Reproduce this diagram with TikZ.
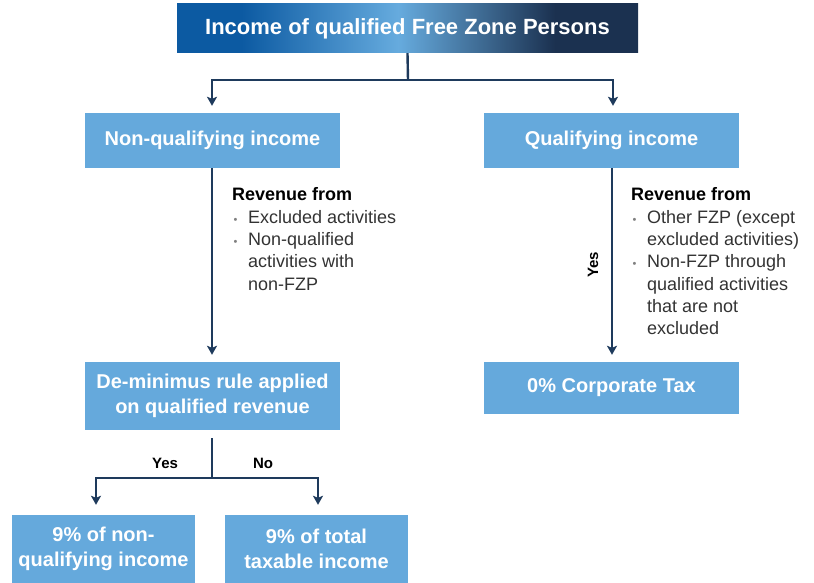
\documentclass[tikz,border=0pt]{standalone}
\usepackage{fontspec}
\setmainfont{Liberation Sans}
\usetikzlibrary{arrows.meta,calc}
\definecolor{boxblue}{HTML}{65A9DC}
\definecolor{arrowc}{HTML}{1E3A5C}
\definecolor{gA}{HTML}{0C5AA2}
\definecolor{gB}{HTML}{66ABDE}
\definecolor{gC}{HTML}{1B3150}
\definecolor{bodytext}{HTML}{333333}
\pgfdeclarehorizontalshading{topgrad}{100bp}{color(0bp)=(gA); color(32bp)=(gA); color(49bp)=(gB); color(66bp)=(gC); color(100bp)=(gC)}
\tikzset{
  box/.style={fill=boxblue, text=white, font=\bfseries\fontsize{20}{25.5}\selectfont, align=center, inner sep=0pt},
  conn/.style={draw=arrowc, line width=2.4pt},
  arr/.style={conn, -{Stealth[length=9pt,width=10pt,inset=2pt]}},
  body/.style={font=\fontsize{18}{22.3}\selectfont, text=bodytext, align=left, inner sep=0pt, anchor=north west},
  lbl/.style={font=\bfseries\fontsize{15}{18}\selectfont, text=black, inner sep=0pt}
}
\newcommand{\bul}{\textcolor{gray}{\fontsize{11}{14}\selectfont\textbullet}}
\begin{document}
\begin{tikzpicture}[x=1pt,y=-1pt]
\useasboundingbox (0,0) rectangle (814,583);
% boxes
\node[box, shading=topgrad, minimum width=461pt, minimum height=49pt, font=\bfseries\fontsize{22}{26}\selectfont] (top) at (407.5,28.5) {Income of qualified Free Zone Persons};
\node[box, minimum width=255pt, minimum height=55pt] (nq) at (212.5,140.5) {Non-qualifying income};
\node[box, minimum width=255pt, minimum height=55pt] (q) at (611.5,140.5) {Qualifying income};
\node[box, minimum width=255pt, minimum height=68pt] (dm) at (212.5,396) {De-minimus rule applied\\on qualified revenue};
\node[box, minimum width=255pt, minimum height=52pt] (ct) at (611.5,388) {0\% Corporate Tax};
\node[box, minimum width=183pt, minimum height=68pt] (b1) at (103.5,549) {9\% of non-\\qualifying income};
\node[box, minimum width=183pt, minimum height=68pt] (b2) at (316.5,549) {9\% of total\\taxable income};
% connectors
\coordinate (jt) at (408,80);
\coordinate (jb) at (212,478);
\draw[conn] (top.south) -- (jt);
\draw[arr] (jt) -| ([xshift=-0.5pt,yshift=7pt]nq.north);
\draw[arr] (jt) -| ([xshift=1.5pt,yshift=7pt]q.north);
\draw[arr] ([xshift=-0.5pt]nq.south) -- ([xshift=-0.5pt,yshift=7pt]dm.north);
\draw[arr] ([xshift=0.5pt]q.south) -- ([xshift=0.5pt,yshift=7pt]ct.north);
\draw[conn] ([xshift=-0.5pt,yshift=-8pt]dm.south) -- (jb);
\draw[arr] (jb) -| ([xshift=-7.5pt,yshift=10pt]b1.north);
\draw[arr] (jb) -| ([xshift=1.5pt,yshift=10pt]b2.north);
% labels
\node[lbl] (yes1) at (165,463) {Yes};
\node[lbl] (no1) at (263,463) {No};
\node[lbl, rotate=90] (yes2) at (593,265) {Yes};
% texts
\node[body] (t1) at (232,185) {\begin{tabular}{@{}l@{}l@{}}
\multicolumn{2}{@{}l@{}}{\textcolor{black}{\bfseries Revenue from}}\\
\makebox[16pt][l]{\hspace{1.5pt}\bul} & Excluded activities\\
\makebox[16pt][l]{\hspace{1.5pt}\bul} & Non-qualified\\
 & activities with\\
 & non-FZP
\end{tabular}};
\node[body] (t2) at (631,185) {\begin{tabular}{@{}l@{}l@{}}
\multicolumn{2}{@{}l@{}}{\textcolor{black}{\bfseries Revenue from}}\\
\makebox[16pt][l]{\hspace{1.5pt}\bul} & Other FZP (except\\
 & excluded activities)\\
\makebox[16pt][l]{\hspace{1.5pt}\bul} & Non-FZP through\\
 & qualified activities\\
 & that are not\\
 & excluded
\end{tabular}};
\end{tikzpicture}
\end{document}
